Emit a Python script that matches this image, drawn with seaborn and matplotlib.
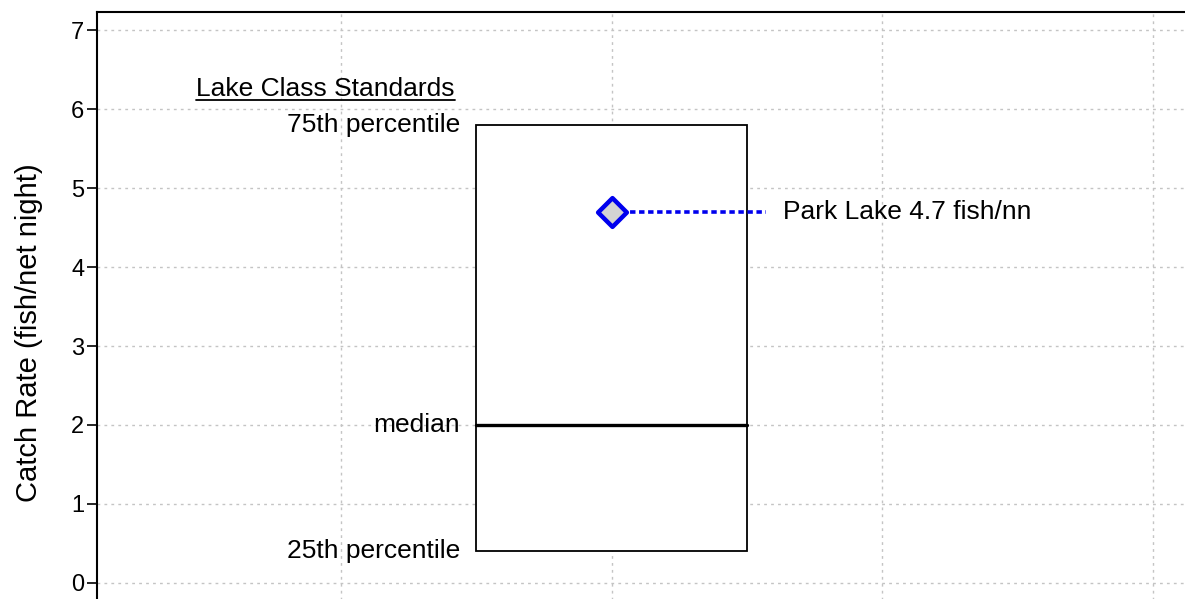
import matplotlib
matplotlib.use("Agg")
import matplotlib.pyplot as plt
from matplotlib.patches import Rectangle
import pandas as pd
import seaborn as sns

# lake class standards (fish per net night)
std_labels = ["25th percentile", "median", "75th percentile"]
std_values = [0.4, 2.0, 5.8]
std_title = "Lake Class Standards"

lake_name = "Park Lake"
lake_value = [4.7]

y_ticks = [0, 1, 2, 3, 4, 5, 6, 7]

sns.set_style("white")
plt.rcParams["font.family"] = ["Liberation Sans", "DejaVu Sans"]
plt.rcParams["text.color"] = "black"
plt.rcParams["axes.labelcolor"] = "black"
plt.rcParams["ytick.color"] = "black"

fig = plt.figure(figsize=(11.85, 5.99), dpi=100)
# the plot area runs past the bottom of the picture, as in the original
ax = fig.add_axes([97 / 1185, -55 / 599, 1 - 97 / 1185, (654 - 12) / 599])

q25, med, q75 = std_values
box_x = 2.0
ax.add_patch(Rectangle((box_x - 0.5, q25), 1.0, q75 - q25, facecolor="white",
                       edgecolor="black", linewidth=1.3, zorder=3))
ax.plot([box_x - 0.5, box_x + 0.5], [med, med], color="black", lw=2.4, zorder=4)

for lab, val in zip(std_labels, std_values):
    ax.text(box_x - 0.56, val, lab, ha="right", va="center", fontsize=19, zorder=5)
title = ax.text(box_x - 0.58, 6.26, std_title, ha="right", va="center", fontsize=19)

df = pd.DataFrame({"x": [box_x], "y": lake_value})
line_df = pd.DataFrame({"x": [box_x, box_x + 0.57], "y": lake_value * 2})
sns.lineplot(data=line_df, x="x", y="y", ax=ax, color="#0000ee", lw=2.6,
             linestyle=(0, (1.5, 1.0)), zorder=5)
sns.scatterplot(data=df, x="x", y="y", ax=ax, marker="D", s=215,
                color="#d3d3d3", edgecolor="#0000ee", linewidth=3.2, zorder=6)
ax.text(box_x + 0.635, lake_value[0], f"{lake_name} {lake_value[0]} fish/nn",
        ha="left", va="center", fontsize=19)

ax.set_xlim(0.098, 4.12)
ax.set_ylim(-0.9, 7.23)
ax.set_yticks(y_ticks)
ax.set_xticks([1, 2, 3, 4])
ax.set_xticklabels([])
ax.tick_params(axis="x", length=0)
ax.tick_params(axis="y", length=7, width=1.2, color="black", labelsize=17, pad=2,
               left=True)
ax.grid(True, color="#c4c4c4", linestyle=(0, (2, 3)), linewidth=1)
ax.set_xlabel("")
ax.set_ylabel("Catch Rate (fish/net night)", fontsize=21)
ax.yaxis.set_label_coords(-0.05, 0.5)
for side in ["right", "bottom"]:
    ax.spines[side].set_visible(False)
for side in ["left", "top"]:
    ax.spines[side].set_color("black")
    ax.spines[side].set_linewidth(1.5)

# underline the standards heading
fig.canvas.draw()
bb = title.get_window_extent().transformed(ax.transData.inverted())
ax.plot([bb.x0, bb.x1], [bb.y0 + 0.01, bb.y0 + 0.01], color="black", lw=1.3)

fig.savefig("out.png", dpi=100)
